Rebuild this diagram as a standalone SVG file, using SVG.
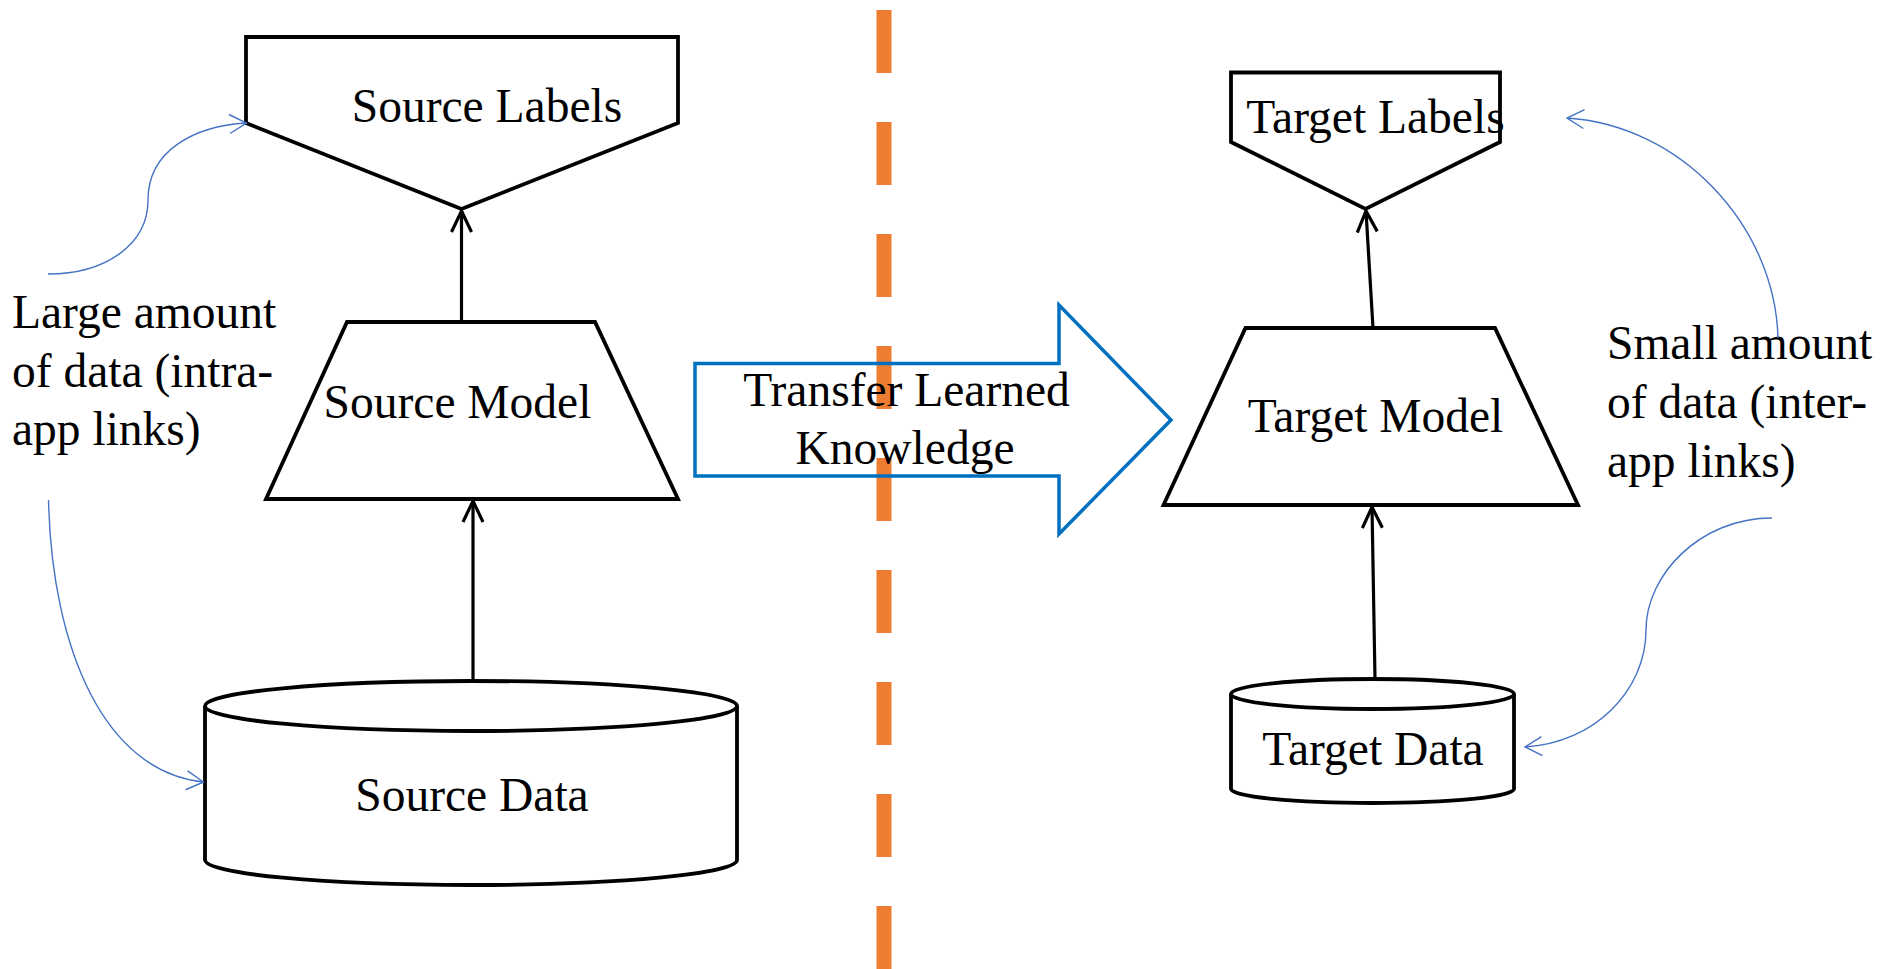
<svg xmlns="http://www.w3.org/2000/svg" width="1885" height="969" viewBox="0 0 1885 969">
<style>
.shape{fill:#fff;stroke:#000;stroke-width:3.8;stroke-linejoin:miter}
.lbl{font-family:"Liberation Serif","Times New Roman",serif;font-size:47.5px;fill:#000}
.conn{stroke:#000;stroke-width:3.2;fill:none}
.note{stroke:#4472C4;stroke-width:1.4;fill:none}
</style>
<defs>
<marker id="ah" viewBox="-24 -13 27 26" refX="0" refY="0" markerWidth="27" markerHeight="26" markerUnits="userSpaceOnUse" orient="auto">
<path d="M-21,-10 L0,0 L-21,10" fill="none" stroke="#000" stroke-width="3.2"/>
</marker>
<marker id="bh" viewBox="-20 -12 22 24" refX="0" refY="0" markerWidth="22" markerHeight="24" markerUnits="userSpaceOnUse" orient="auto">
<path d="M-17,-9.5 L0,0 L-17,9.5" fill="none" stroke="#4472C4" stroke-width="1.4"/>
</marker>
</defs>
<rect width="1885" height="969" fill="#fff"/>

<g id="divider">
<line x1="884" y1="10" x2="884" y2="969" stroke="#ED7D31" stroke-width="15" stroke-dasharray="63 49"/>
</g>

<g id="source-labels">
<polygon class="shape" points="246,37 678,37 678,123 461.5,209 246,123"/>
<text class="lbl" x="487" y="122" text-anchor="middle">Source Labels</text>
</g>

<g id="source-model">
<polygon class="shape" points="347,322 595,322 678,499 266,499"/>
<text class="lbl" x="457.5" y="418" text-anchor="middle">Source Model</text>
</g>

<g id="source-data">
<path class="shape" d="M205,706 A266,25 0 0 1 737,706 L737,860 A266,25 0 0 1 205,860 Z"/>
<path class="shape" fill="none" d="M205,706 A266,25 0 0 0 737,706"/>
<text class="lbl" x="472" y="811" text-anchor="middle">Source Data</text>
</g>

<g id="target-labels">
<polygon class="shape" points="1231,72.5 1500,72.5 1500,142 1365.5,209 1231,142"/>
<text class="lbl" x="1375.5" y="133" text-anchor="middle">Target Labels</text>
</g>

<g id="target-model">
<polygon class="shape" points="1245.5,328 1495,328 1578,505 1163.5,505"/>
<text class="lbl" x="1375.5" y="432" text-anchor="middle">Target Model</text>
</g>

<g id="target-data">
<path class="shape" d="M1231,694 A141.5,15 0 0 1 1514,694 L1514,789 A141.5,14 0 0 1 1231,789 Z"/>
<path class="shape" fill="none" d="M1231,694 A141.5,15 0 0 0 1514,694"/>
<text class="lbl" x="1373" y="765" text-anchor="middle">Target Data</text>
</g>

<g id="transfer">
<polygon points="695,363.5 1059,363.5 1059,305 1171,420 1059,534 1059,476 695,476" fill="none" stroke="#0070C0" stroke-width="3.5"/>
<text class="lbl" x="906.5" y="406" text-anchor="middle">Transfer Learned</text>
<text class="lbl" x="905" y="464" text-anchor="middle">Knowledge</text>
</g>

<g id="large-note">
<text class="lbl" x="12" y="328">Large amount</text>
<text class="lbl" x="12" y="387">of data (intra-</text>
<text class="lbl" x="12" y="445">app links)</text>
</g>

<g id="small-note">
<text class="lbl" x="1607" y="359">Small amount</text>
<text class="lbl" x="1607" y="418">of data (inter-</text>
<text class="lbl" x="1607" y="477">app links)</text>
</g>

<g id="connectors">
<line class="conn" x1="473" y1="681" x2="473" y2="501" marker-end="url(#ah)"/>
<line class="conn" x1="461.5" y1="322" x2="461.5" y2="211" marker-end="url(#ah)"/>
<line class="conn" x1="1375" y1="679" x2="1372" y2="507" marker-end="url(#ah)"/>
<line class="conn" x1="1373" y1="328" x2="1366" y2="211" marker-end="url(#ah)"/>
<path class="note" d="M48,274 C105,274 148,245 148,200 C148,150 195,126 246.5,123" marker-end="url(#bh)"/>
<path class="note" d="M48.5,500 C52,650 105,772 203.5,782" marker-end="url(#bh)"/>
<path class="note" d="M1778,338 C1775,225 1680,125 1567,118" marker-end="url(#bh)"/>
<path class="note" d="M1772,518 C1700,518 1646,575 1646,630 C1646,690 1595,743 1525,747" marker-end="url(#bh)"/>
</g>
</svg>
